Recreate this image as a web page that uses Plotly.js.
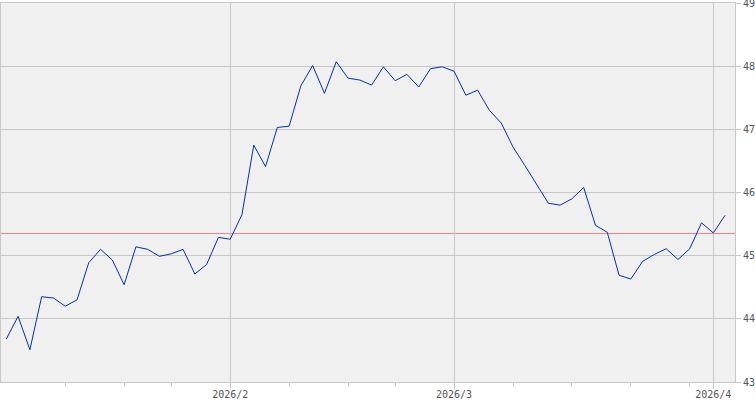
<!DOCTYPE html>
<html>
<head>
<meta charset="utf-8">
<script src="https://cdn.plot.ly/plotly-3.0.1.min.js"></script>
<style>
html,body{margin:0;padding:0;background:#fff;}
#chart{width:755px;height:400px;}
</style>
</head>
<body>
<div id="chart"></div>
<script>
// Trading days shown on the chart
const dates = [
  "2026-01-05","2026-01-06","2026-01-07","2026-01-08","2026-01-09",
  "2026-01-12","2026-01-13","2026-01-14","2026-01-15","2026-01-16",
  "2026-01-20","2026-01-21","2026-01-22","2026-01-23",
  "2026-01-26","2026-01-27","2026-01-28","2026-01-29","2026-01-30",
  "2026-02-02","2026-02-03","2026-02-04","2026-02-05","2026-02-06",
  "2026-02-09","2026-02-10","2026-02-11","2026-02-12","2026-02-13",
  "2026-02-17","2026-02-18","2026-02-19","2026-02-20",
  "2026-02-23","2026-02-24","2026-02-25","2026-02-26","2026-02-27",
  "2026-03-02","2026-03-03","2026-03-04","2026-03-05","2026-03-06",
  "2026-03-09","2026-03-10","2026-03-11","2026-03-12","2026-03-13",
  "2026-03-16","2026-03-17","2026-03-18","2026-03-19","2026-03-20",
  "2026-03-23","2026-03-24","2026-03-25","2026-03-26","2026-03-27",
  "2026-03-30","2026-03-31",
  "2026-04-01","2026-04-02"
];
// Closing values
const prices = [
  43.68,44.04,43.51,44.35,44.33,
  44.20,44.30,44.89,45.10,44.93,
  44.54,45.14,45.10,44.99,
  45.03,45.10,44.71,44.86,45.29,
  45.26,45.65,46.75,46.41,47.03,
  47.05,47.69,48.01,47.57,48.07,
  47.81,47.78,47.70,47.99,
  47.77,47.87,47.67,47.96,47.99,
  47.92,47.54,47.62,47.30,47.10,
  46.72,46.43,46.14,45.83,45.80,
  45.90,46.08,45.48,45.37,44.69,
  44.63,44.91,45.02,45.11,44.94,
  45.11,45.52,
  45.36,45.64
];
// Reference level (horizontal red line)
const refLevel = 45.35;
// Month label positions and texts
const monthDates = ["2026-02-02","2026-03-02","2026-04-01"];
const monthLabels = ["2026/2","2026/3","2026/4"];
// Week-start minor ticks
const weekDates = ["2026-01-12","2026-01-20","2026-01-26","2026-02-09","2026-02-17","2026-02-23",
                   "2026-03-09","2026-03-16","2026-03-23","2026-03-30"];
// Y axis ticks
const yTicks = [43,44,45,46,47,48,49];

const idx = dates.map((d,i)=>i);
const monthIdx = monthDates.map(d=>dates.indexOf(d));
const weekIdx = weekDates.map(d=>dates.indexOf(d));

const gridC = "#c8c8c8";
const tickFont = {family:"DejaVu Sans Mono, monospace", size:10, color:"#555555"};

const trace = {
  x: idx, y: prices, type:"scatter", mode:"lines",
  line:{color:"#0033a0", width:1},
  hoverinfo:"skip"
};

const layout = {
  width:755, height:400,
  margin:{l:1, r:20, t:3, b:18, pad:0},
  paper_bgcolor:"#ffffff",
  plot_bgcolor:"#f0f0f0",
  showlegend:false,
  xaxis:{
    type:"linear",
    range:[-0.45, 61.84],
    tickmode:"array",
    tickvals:monthIdx,
    ticktext:monthLabels,
    ticks:"outside", ticklen:6, tickcolor:gridC, tickwidth:1,
    ticklabelstandoff:-3,
    ticklabeloverflow:"allow",
    showgrid:true, gridcolor:gridC, gridwidth:1,
    showline:true, linecolor:gridC, linewidth:1, mirror:true,
    zeroline:false,
    tickfont:tickFont,
    minor:{tickmode:"array", tickvals:weekIdx, ticks:"outside", ticklen:4, tickcolor:gridC, showgrid:false}
  },
  yaxis:{
    side:"right",
    range:[43,49],
    tickmode:"array",
    tickvals:yTicks,
    ticktext:yTicks.map(String),
    ticks:"outside", ticklen:5, tickcolor:gridC, tickwidth:1,
    ticklabeloverflow:"allow",
    showgrid:true, gridcolor:gridC, gridwidth:1,
    showline:true, linecolor:gridC, linewidth:1, mirror:true,
    zeroline:false,
    tickfont:tickFont
  },
  shapes:[{
    type:"line", xref:"paper", yref:"y", x0:0, x1:1, y0:refLevel, y1:refLevel,
    line:{color:"#f08080", width:1}, layer:"below"
  }]
};

Plotly.newPlot("chart", [trace], layout, {staticPlot:true, displayModeBar:false});
</script>
</body>
</html>
